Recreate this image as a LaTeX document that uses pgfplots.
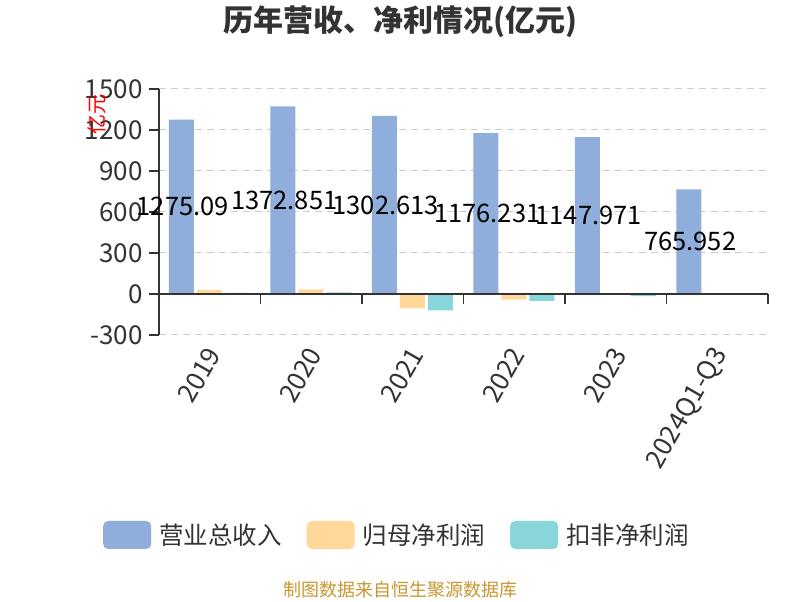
\documentclass[border=0pt]{standalone}
\usepackage{fontspec}
\setmainfont{Noto Sans CJK SC}
\usepackage{pgfplots}
\pgfplotsset{compat=1.18}
\definecolor{cRev}{HTML}{8FAEDB}
\definecolor{cNet}{HTML}{FFD89A}
\definecolor{cDed}{HTML}{88D6D9}
\definecolor{txt}{HTML}{333333}
\definecolor{grd}{HTML}{CCCCCC}
\definecolor{foot}{HTML}{C8962F}
\begin{document}
\begin{tikzpicture}[x=1pt,y=1pt]
\path (0,0) rectangle (800,600);
\node[font=\fontsize{30}{34}\selectfont\bfseries, text=txt] at (400,578) {历年营收、净利情况(亿元)};
\begin{axis}[at={(159pt,265pt)}, anchor=south west, scale only axis, width=609pt, height=246pt,
 xmin=-0.5, xmax=5.5, ymin=-300, ymax=1500,
 axis x line*=bottom, axis y line*=left, x axis line style={draw=none},
 ytick={-300,0,300,600,900,1200,1500},
 ymajorgrids, grid style={grd, dash pattern=on 7pt off 5pt, line width=1pt},
 y axis line style={txt, line width=1.5pt, -}, ytick style={txt, line width=1.5pt},
 tick align=outside, major tick length=10pt,
 xtick={0,...,5}, xticklabels={2019,2020,2021,2022,2023,2024Q1-Q3}, xtick style={draw=none},
 xticklabel style={rotate=60, anchor=east, xshift=1pt, yshift=-6pt},
 ticklabel style={font=\fontsize{26}{30}\selectfont, text=txt},
 yticklabel style={xshift=-3pt},
 /pgf/number format/assume math mode=true,
 /pgf/number format/1000 sep={},
 legend style={at={(0.3957,-0.813)}, anchor=center, draw=none, fill=none, legend columns=3,
   font=\fontsize{24.5}{28}\selectfont, text=txt,
   nodes={inner xsep=8pt},
   /tikz/every even column/.append style={column sep=17pt}},
 clip=false,
]
\addplot[ybar, bar width=25pt, bar shift=-28.5pt, fill=cRev, draw=none,
  legend image code/.code={\fill[cRev, rounded corners=5pt] (0pt,-14pt) rectangle (48pt,14pt);}]
  coordinates {(0,1275.09) (1,1372.851) (2,1302.613) (3,1176.231) (4,1147.971) (5,765.952)};
\addlegendentry{营业总收入}
\addplot[ybar, bar width=25pt, bar shift=-0.5pt, fill=cNet, draw=none,
  legend image code/.code={\fill[cNet, rounded corners=5pt] (0pt,-14pt) rectangle (48pt,14pt);}]
  coordinates {(0,31) (1,34) (2,-105) (3,-42) (4,2) (5,-5)};
\addlegendentry{归母净利润}
\addplot[ybar, bar width=25pt, bar shift=27.5pt, fill=cDed, draw=none,
  legend image code/.code={\fill[cDed, rounded corners=5pt] (0pt,-14pt) rectangle (48pt,14pt);}]
  coordinates {(0,9) (1,12) (2,-120) (3,-51) (4,-15) (5,1)};
\addlegendentry{扣非净利润}
\addplot[draw=none, mark=none, forget plot, nodes near coords, point meta=explicit symbolic,
  every node near coord/.style={anchor=center, xshift=-27pt, font=\fontsize{25.5}{29}\selectfont, text=black}]
  coordinates {(0,637.545)[1275.09] (1,686.4255)[1372.851] (2,651.3065)[1302.613] (3,588.1155)[1176.231] (4,573.9855)[1147.971] (5,382.976)[765.952]};
\draw[txt, line width=1.5pt] (axis cs:-0.5,0) -- (axis cs:5.5,0);
\pgfplotsinvokeforeach{-0.5,0.5,1.5,2.5,3.5,4.5,5.5}{
  \draw[txt, line width=1.5pt] (axis cs:#1,0) -- ([yshift=-10pt]axis cs:#1,0);
}
\end{axis}
\node[rotate=90, text=red, font=\fontsize{20}{22}\selectfont] at (97,485) {亿元};
\node[text=foot, font=\fontsize{18}{20}\selectfont] at (400,10) {制图数据来自恒生聚源数据库};
\end{tikzpicture}
\end{document}
